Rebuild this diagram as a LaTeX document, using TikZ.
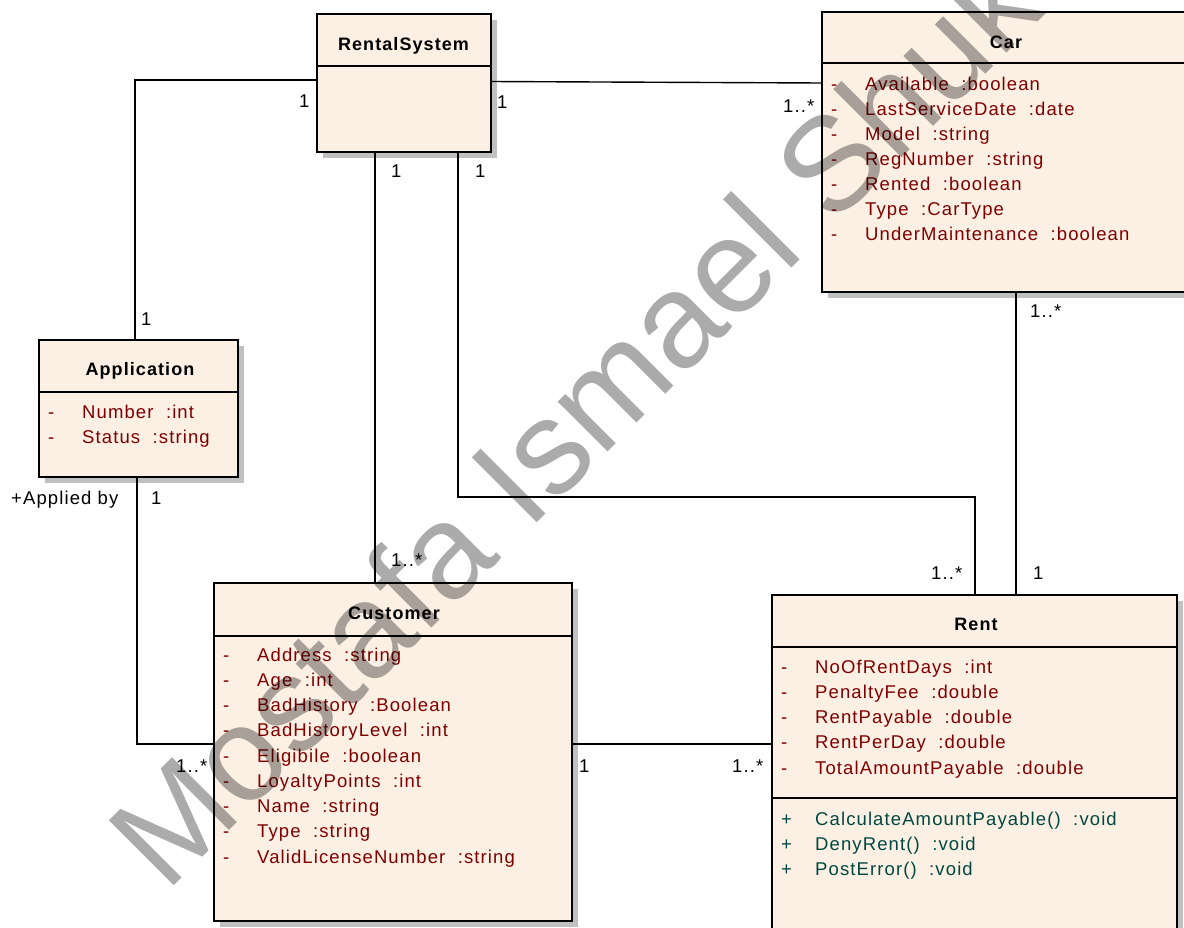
\documentclass[tikz,border=0pt]{standalone}
\usepackage{fontspec}
\setmainfont{Liberation Sans}
\newfontfamily\umlfont{Liberation Sans}[LetterSpace=6]
\newfontfamily\wmfont{Liberation Sans}
\usetikzlibrary{calc,shadows}
\definecolor{umlfill}{RGB}{251,240,227}
\definecolor{shadowgray}{RGB}{192,192,192}
\definecolor{attrred}{RGB}{128,0,0}
\definecolor{opteal}{RGB}{0,72,64}
\newcommand\vis[1]{\makebox[34pt][l]{#1}}
\newcommand\colsep{\hspace{12.5pt}}
\tikzset{
 umlbox/.style={draw=black, line width=1.8pt, fill=umlfill, inner sep=0pt, outer sep=0pt, anchor=north west,
   general shadow={fill=shadowgray, shadow xshift=6pt, shadow yshift=-6pt}},
 divider/.style={line width=1.5pt},
 assoc/.style={line width=1.4pt},
 title/.style={anchor=base, inner sep=0pt, font=\umlfont\bfseries\fontsize{18}{20}\selectfont},
 attr/.style={anchor=base west, inner sep=0pt, text=attrred, font=\umlfont\fontsize{18.5}{20}\selectfont},
 oper/.style={attr, text=opteal},
 mult/.style={anchor=base west, inner sep=0pt, font=\umlfont\fontsize{18.5}{20}\selectfont},
}
\begin{document}
\begin{tikzpicture}[x=1pt, y=-1pt]
\useasboundingbox (0,0) rectangle (1184,927);
\clip (0,0) rectangle (1184,927);

% boxes
\node[umlbox, minimum width=174pt, minimum height=138pt] (rs) at (317,14) {};
\node[umlbox, minimum width=368pt, minimum height=280pt] (car) at (822,12) {};
\node[umlbox, minimum width=199pt, minimum height=137pt] (app) at (39,340) {};
\node[umlbox, minimum width=358pt, minimum height=338pt] (cust) at (214,583) {};
\node[umlbox, minimum width=405pt, minimum height=365pt] (rent) at (772,595) {};

% dividers
\draw[divider] ($(rs.north west)+(0,52)$) -- ($(rs.north east)+(0,52)$);
\draw[divider] ($(car.north west)+(0,51)$) -- ($(car.north east)+(0,51)$);
\draw[divider] ($(app.north west)+(0,52)$) -- ($(app.north east)+(0,52)$);
\draw[divider] ($(cust.north west)+(0,53)$) -- ($(cust.north east)+(0,53)$);
\draw[divider] ($(rent.north west)+(0,52)$) -- ($(rent.north east)+(0,52)$);
\draw[divider] ($(rent.north west)+(0,203)$) -- ($(rent.north east)+(0,203)$);

% titles
\node[title] (rst) at (403.5,50) {RentalSystem};
\node[title] (cart) at (1006,48) {Car};
\node[title] (appt) at (140,375) {Application};
\node[title] (custt) at (394,619) {Customer};
\node[title] (rentt) at (976,630) {Rent};

% Car attributes
\node[attr] (car1) at (831,90)    {\vis{-}Available\colsep:boolean};
\node[attr] (car2) at (831,115.1) {\vis{-}LastServiceDate\colsep:date};
\node[attr] (car3) at (831,140.2) {\vis{-}Model\colsep:string};
\node[attr] (car4) at (831,165.3) {\vis{-}RegNumber\colsep:string};
\node[attr] (car5) at (831,190.4) {\vis{-}Rented\colsep:boolean};
\node[attr] (car6) at (831,215.5) {\vis{-}Type\colsep:CarType};
\node[attr] (car7) at (831,240.6) {\vis{-}UnderMaintenance\colsep:boolean};

% Application attributes
\node[attr] (app1) at (48,418) {\vis{-}Number\colsep:int};
\node[attr] (app2) at (48,443) {\vis{-}Status\colsep:string};

% Customer attributes
\node[attr] (cu1) at (223,661)    {\vis{-}Address\colsep:string};
\node[attr] (cu2) at (223,686.25) {\vis{-}Age\colsep:int};
\node[attr] (cu3) at (223,711.5)  {\vis{-}BadHistory\colsep:Boolean};
\node[attr] (cu4) at (223,736.75) {\vis{-}BadHistoryLevel\colsep:int};
\node[attr] (cu5) at (223,762)    {\vis{-}Eligibile\colsep:boolean};
\node[attr] (cu6) at (223,787.25) {\vis{-}LoyaltyPoints\colsep:int};
\node[attr] (cu7) at (223,812.5)  {\vis{-}Name\colsep:string};
\node[attr] (cu8) at (223,837.75) {\vis{-}Type\colsep:string};
\node[attr] (cu9) at (223,863)    {\vis{-}ValidLicenseNumber\colsep:string};

% Rent attributes and operations
\node[attr] (re1) at (781,673)    {\vis{-}NoOfRentDays\colsep:int};
\node[attr] (re2) at (781,698.25) {\vis{-}PenaltyFee\colsep:double};
\node[attr] (re3) at (781,723.5)  {\vis{-}RentPayable\colsep:double};
\node[attr] (re4) at (781,748.75) {\vis{-}RentPerDay\colsep:double};
\node[attr] (re5) at (781,774)    {\vis{-}TotalAmountPayable\colsep:double};
\node[oper] (op1) at (781,825) {\vis{+}CalculateAmountPayable()\colsep:void};
\node[oper] (op2) at (781,850) {\vis{+}DenyRent()\colsep:void};
\node[oper] (op3) at (781,875) {\vis{+}PostError()\colsep:void};

% associations
\draw[assoc] ($(rs.north west)+(0,66)$) -| ($(app.north west)+(96,0)$);
\draw[assoc] ($(rs.north east)+(0,67.5)$) -- ($(car.north west)+(0,71)$);
\draw[assoc] ($(rs.south west)+(58,0)$) -- ($(cust.north west)+(161,0)$);
\draw[assoc] ($(rs.south west)+(141,0)$) |- ($(rent.north west)+(203,-98)$) -- ($(rent.north west)+(203,0)$);
\draw[assoc] ($(car.south west)+(194,0)$) -- ($(rent.north west)+(244,0)$);
\draw[assoc] ($(app.south west)+(98,0)$) |- ($(cust.north west)+(0,161)$);
\draw[assoc] ($(cust.north east)+(0,161)$) -- ($(rent.north west)+(0,149)$);

% multiplicities
\node[mult] (m1) at (299,107) {1};
\node[mult] (m2) at (141,325) {1};
\node[mult] (m3) at (497,108) {1};
\node[mult] (m4) at (783,112) {1..*};
\node[mult] (m5) at (391,177) {1};
\node[mult] (m6) at (391,566) {1..*};
\node[mult] (m7) at (475,177) {1};
\node[mult] (m8) at (931,579) {1..*};
\node[mult] (m9) at (1030,317) {1..*};
\node[mult] (m10) at (1033,579) {1};
\node[mult] (m11) at (11,504) {+Applied by};
\node[mult] (m12) at (151,504) {1};
\node[mult] (m13) at (176,772) {1..*};
\node[mult] (m14) at (579,772) {1};
\node[mult] (m15) at (732,772) {1..*};

% watermark
\node[anchor=base west, inner sep=0pt, rotate=45, text=black, opacity=0.33, text opacity=0.33,
      font=\wmfont\fontsize{133.5}{134}\selectfont] (wm) at (166,894) {Mostafa Ismael Shuk};
\end{tikzpicture}
\end{document}
